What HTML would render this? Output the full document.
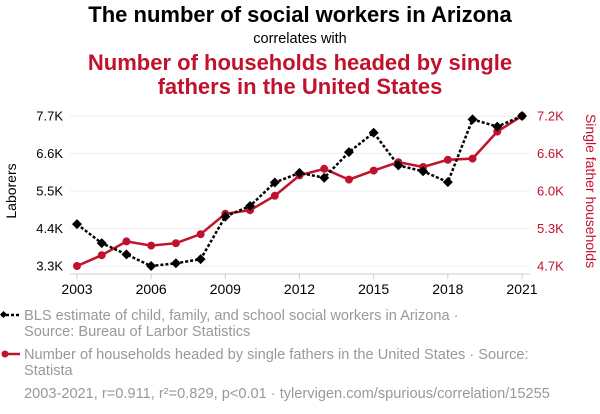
<!DOCTYPE html>
<html><head><meta charset="utf-8"><style>
body{margin:0;background:#fff;width:600px;height:414px;overflow:hidden;font-family:"Liberation Sans",sans-serif}
svg{display:block}
</style></head><body>
<svg id="chart" width="600" height="414">
<text x="300" y="22" text-anchor="middle" font-size="22" font-weight="bold" fill="#000">The number of social workers in Arizona</text>
<text x="300" y="43" text-anchor="middle" font-size="14.5" fill="#000">correlates with</text>
<text x="300" y="70" text-anchor="middle" font-size="22" font-weight="bold" fill="#c0122c">Number of households headed by single</text>
<text x="300" y="94" text-anchor="middle" font-size="22" font-weight="bold" fill="#c0122c">fathers in the United States</text>
<g id="grid"></g>
<line x1="70" y1="274" x2="530" y2="274" stroke="#ccc"/>
<g id="xticks"></g>
<g id="lticks"></g>
<g id="rticks"></g>
<text transform="translate(16,191) rotate(-90)" text-anchor="middle" font-size="14" fill="#000">Laborers</text>
<text transform="translate(586,191) rotate(90)" text-anchor="middle" font-size="14" fill="#c0122c">Single father households</text>
<g id="series"></g>
<g>
<line x1="1" y1="315" x2="20" y2="315" stroke="#000" stroke-width="2.5" stroke-dasharray="3,2"/>
<rect x="1" y="312" width="5" height="5" transform="rotate(45 3.5 314.5)" fill="#000"/>
<text x="24" y="320" font-size="14.6" fill="#999">BLS estimate of child, family, and school social workers in Arizona ·</text>
<text x="24" y="336" font-size="14.6" fill="#999">Source: Bureau of Larbor Statistics</text>
<line x1="3" y1="354" x2="20" y2="354" stroke="#c0122c" stroke-width="2.5"/>
<circle cx="5" cy="354" r="3.5" fill="#c0122c"/>
<text x="24" y="359" font-size="14.6" fill="#999">Number of households headed by single fathers in the United States · Source:</text>
<text x="24" y="375" font-size="14.6" fill="#999">Statista</text>
<text x="24" y="398" font-size="14.6" fill="#999">2003-2021, r=0.911, r²=0.829, p&lt;0.01 · tylervigen.com/spurious/correlation/15255</text>
</g>
</svg>
<script>
const years=[2003,2004,2005,2006,2007,2008,2009,2010,2011,2012,2013,2014,2015,2016,2017,2018,2019,2020,2021];
const workers=[4.53,3.97,3.64,3.3,3.38,3.5,4.75,5.06,5.75,6.03,5.89,6.64,7.21,6.25,6.08,5.76,7.6,7.39,7.7];
const fathers=[4.7,4.88,5.11,5.04,5.08,5.23,5.57,5.63,5.87,6.21,6.32,6.14,6.29,6.43,6.35,6.47,6.49,6.94,7.2];
const xTickYears=[2003,2006,2009,2012,2015,2018,2021];
const leftTicks=[3.3,4.4,5.5,6.6,7.7];
const leftLabels=["3.3K","4.4K","5.5K","6.6K","7.7K"];
const rightTicks=[4.7,5.325,5.95,6.575,7.2];
const rightLabels=["4.7K","5.3K","6.0K","6.6K","7.2K"];
const NS="http://www.w3.org/2000/svg";
const x=y=>77+(y-2003)*(522-77)/18;
const yl=v=>266-(v-3.3)*150/4.4;
const yr=v=>266-(v-4.7)*150/2.5;
function mk(tag,attrs,parent){const e=document.createElementNS(NS,tag);for(const k in attrs)e.setAttribute(k,attrs[k]);document.getElementById(parent).appendChild(e);return e;}
leftTicks.forEach((t,i)=>{
  const g=mk('line',{x1:70,x2:530,y1:yl(t),y2:yl(t),stroke:'#eee'},'grid');
  
  
  const tl=mk('text',{x:63,y:yl(t)+4.5,'text-anchor':'end','font-size':13,fill:'#000'},'lticks');
  tl.textContent=leftLabels[i];
  
  
});
rightTicks.forEach((t,i)=>{
  const tl=mk('text',{x:537,y:yr(t)+4.5,'font-size':13,fill:'#c0122c'},'rticks');
  tl.textContent=rightLabels[i];
  
  
});
xTickYears.forEach(yv=>{
  const tk=mk('line',{x1:x(yv),x2:x(yv),y1:274,y2:279,stroke:'#ccc'},'xticks');
  
  
  const tl=mk('text',{x:x(yv),y:294,'text-anchor':'middle','font-size':14,fill:'#000'},'xticks');
  tl.textContent=yv;
  
  
});
const rp=mk('polyline',{points:years.map((yv,i)=>x(yv)+','+yr(fathers[i])).join(' '),fill:'none',stroke:'#c0122c','stroke-width':2.5},'series');


years.forEach((yv,i)=>{
  const c=mk('circle',{cx:x(yv),cy:yr(fathers[i]),r:4,fill:'#c0122c'},'series');
  
  
});
const bp=mk('polyline',{points:years.map((yv,i)=>x(yv)+','+yl(workers[i])).join(' '),fill:'none',stroke:'#000','stroke-width':2.5,'stroke-dasharray':'3,2'},'series');


years.forEach((yv,i)=>{
  const cx=x(yv),cy=yl(workers[i]);
  const d=mk('polygon',{points:`${cx},${cy-5} ${cx+5},${cy} ${cx},${cy+5} ${cx-5},${cy}`,fill:'#000'},'series');
  
  
});
</script>
</body></html>
